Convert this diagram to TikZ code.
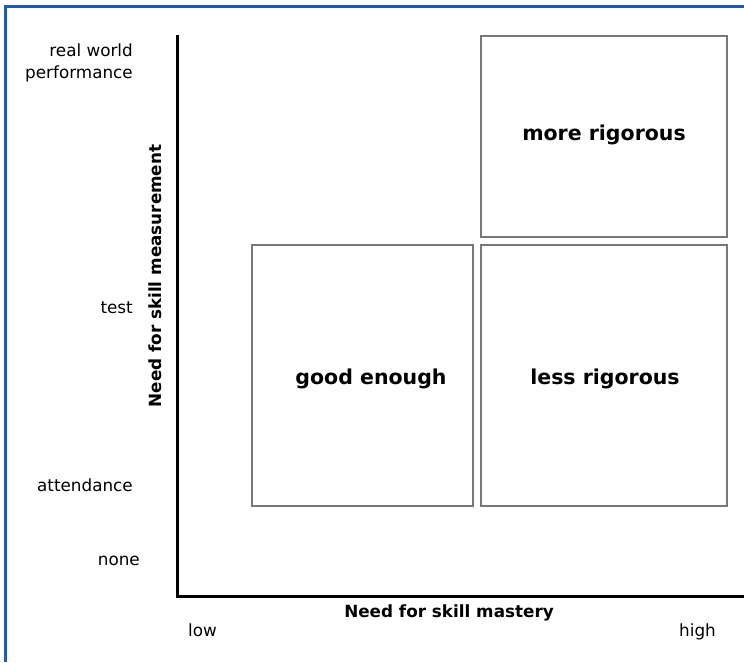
\documentclass[tikz,border=0pt]{standalone}
\usepackage{fontspec}
\setmainfont{DejaVu Sans}
\definecolor{frameblue}{RGB}{35,90,175}
\definecolor{boxgray}{RGB}{120,120,120}
\begin{document}
\begin{tikzpicture}[x=1pt,y=-1pt,
  quad/.style={draw=boxgray,line width=1.1pt,inner sep=0pt},
  quadtext/.style={font=\fontsize{20.5}{24}\selectfont\bfseries},
  ticklab/.style={font=\fontsize{16.8}{20}\selectfont,inner sep=0pt},
  axtitle/.style={font=\fontsize{16.8}{20}\selectfont\bfseries,inner sep=0pt},
  axis/.style={draw=black,line width=3pt}]
\useasboundingbox (0,0) rectangle (744,662);
\fill[white] (0,0) rectangle (744,662);
% blue frame (top and left visible)
\draw[frameblue,line width=2.6pt] (5.2,662) -- (5.2,6.2) -- (744,6.2);
% axes
\coordinate (ytop) at (177,36);
\coordinate (origin) at (177,596);
\coordinate (xend) at (744,596);
\draw[axis,line cap=rect] (ytop) -- (origin) -- (xend);
% quadrants
\node[quad,minimum width=246pt,minimum height=201pt] (more) at (604,136.5) {};
\node[quad,minimum width=246pt,minimum height=261pt] (less) at (604,375.5) {};
\node[quad,minimum width=221pt,minimum height=261pt] (good) at (362.5,375.5) {};
\node[quadtext] (moret) at (604,135) {more rigorous};
\node[quadtext] (lesst) at (605,379) {less rigorous};
\node[quadtext] (goodt) at (371,379) {good enough};
% y tick labels
\node[ticklab,anchor=east,align=right] (rw) at (133,63) {real world\\[2.5pt]performance};
\node[ticklab,anchor=east] (test) at (133,308) {test};
\node[ticklab,anchor=east] (att) at (133,485) {attendance};
\node[ticklab,anchor=east] (none) at (140,561) {none};
% x tick labels
\node[ticklab,anchor=base west] (low) at (188,636) {low};
\node[ticklab,anchor=base east] (high) at (716,636) {high};
% axis titles
\node[axtitle] (xt) at (449,613) {Need for skill mastery};
\node[axtitle,rotate=90] (yt) at (155,276) {Need for skill measurement};
\end{tikzpicture}
\end{document}
